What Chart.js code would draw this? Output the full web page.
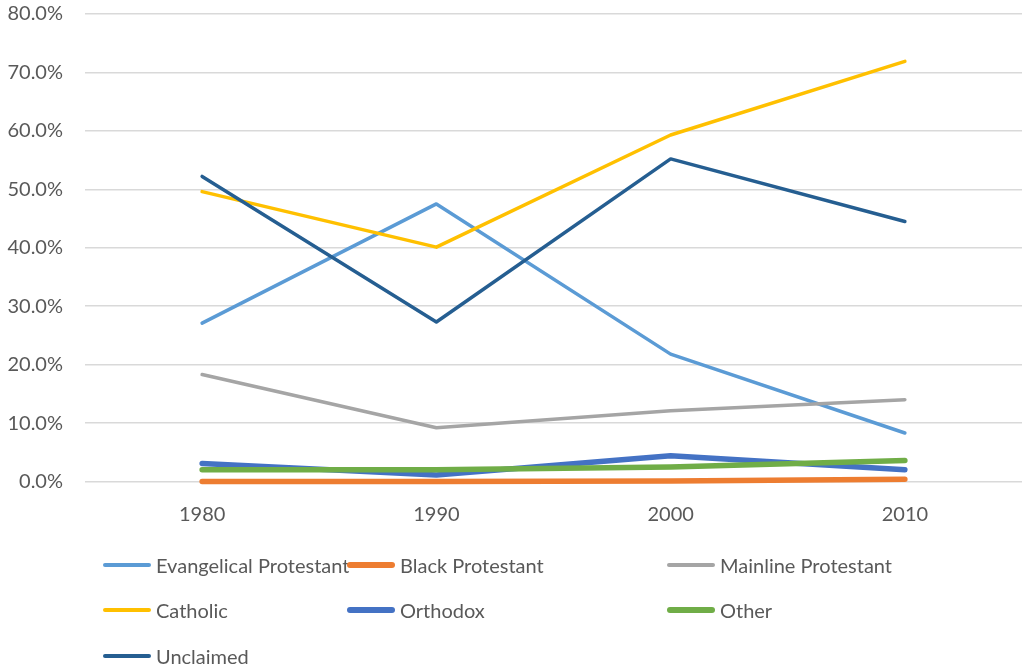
<!DOCTYPE html>
<html>
<head>
<meta charset="utf-8">
<script src="https://cdn.jsdelivr.net/npm/chart.js@4.4.0/dist/chart.umd.min.js"></script>
<style>
  html, body { margin: 0; padding: 0; background: #fff; }
  #wrap { position: relative; width: 1022px; height: 667px; overflow: hidden; }
  #chart { position: absolute; left: 0; top: 0; }
  #legend { position: absolute; left: 0; top: 0; width: 1022px; height: 667px;
            font-family: 'Lato', sans-serif; font-size: 20px; color: #595959; }
  .item { position: absolute; display: flex; align-items: center; height: 30px; margin-top: -15px; white-space: nowrap; }
  .swatch { width: 48px; border-radius: 3px; margin-right: 5px; }
</style>
</head>
<body>
<div id="wrap">
  <canvas id="chart" width="1022" height="530"></canvas>
  <div id="legend"></div>
</div>
<script>
const years = ['1980', '1990', '2000', '2010'];

const evangelical = [27.1, 47.5, 21.8, 8.3];
const blackProt   = [0.0, 0.0, 0.1, 0.4];
const mainline    = [18.3, 9.2, 12.1, 14.0];
const catholic    = [49.6, 40.1, 59.3, 71.9];
const orthodox    = [3.1, 1.1, 4.4, 2.0];
const other       = [2.0, 2.0, 2.5, 3.6];
const unclaimed   = [52.2, 27.3, 55.2, 44.5];

const yTicks = [0, 10, 20, 30, 40, 50, 60, 70, 80];

const series = [
  { label: 'Evangelical Protestant', data: evangelical, color: '#5B9BD5', width: 3.5 },
  { label: 'Black Protestant',       data: blackProt,   color: '#ED7D31', width: 5.5 },
  { label: 'Mainline Protestant',    data: mainline,    color: '#A5A5A5', width: 3.5 },
  { label: 'Catholic',               data: catholic,    color: '#FFC000', width: 3.5 },
  { label: 'Orthodox',               data: orthodox,    color: '#4472C4', width: 5.5 },
  { label: 'Other',                  data: other,       color: '#70AD47', width: 5.5 },
  { label: 'Unclaimed',              data: unclaimed,   color: '#255E91', width: 3.5 }
];

const TEXT = '#595959';
const FONT = "'Lato', sans-serif";

new Chart(document.getElementById('chart').getContext('2d'), {
  type: 'line',
  data: {
    labels: years,
    datasets: series.map((s, i) => ({
      label: s.label,
      data: s.data,
      borderColor: s.color,
      backgroundColor: s.color,
      borderWidth: s.width,
      borderCapStyle: 'round',
      borderJoinStyle: 'round',
      pointRadius: 0,
      tension: 0,
      fill: false,
      clip: false,               // the 0% line must not be cut by the plot edge
      order: series.length - i   // later series paint over earlier ones
    }))
  },
  options: {
    responsive: false,
    animation: false,
    layout: { padding: 0 },
    plugins: { legend: { display: false }, tooltip: { enabled: false } },
    scales: {
      x: {
        offset: true,
        grid: { display: false },
        border: { display: false },
        ticks: { color: TEXT, font: { family: FONT, size: 20 }, padding: 13 },
        afterFit: (s) => { s.height = 48.5; }
      },
      y: {
        min: 0,
        max: 80,
        afterBuildTicks: (s) => { s.ticks = yTicks.map(v => ({ value: v })); },
        grid: { color: '#D9D9D9', lineWidth: 1.6, drawTicks: false },
        border: { display: false },
        ticks: {
          color: TEXT,
          font: { family: FONT, size: 20 },
          padding: 22,
          callback: (v) => v.toFixed(1) + '%'
        },
        // fixed axis width; keep the tick padding from pushing the plot down
        afterFit: (s) => { s.width = 85; s.paddingTop = 14; s.paddingBottom = 0; }
      }
    }
  }
});

// legend laid out in three fixed columns
const legendCols = [103, 347, 667];
const legendRows = [565, 610, 655.5];
const legend = document.getElementById('legend');
series.forEach((s, i) => {
  const item = document.createElement('div');
  item.className = 'item';
  item.style.left = legendCols[i % 3] + 'px';
  item.style.top = legendRows[Math.floor(i / 3)] + 'px';
  const sw = document.createElement('span');
  sw.className = 'swatch';
  sw.style.height = Math.round(s.width) + 'px';
  sw.style.background = s.color;
  const txt = document.createElement('span');
  txt.textContent = s.label;
  item.appendChild(sw);
  item.appendChild(txt);
  legend.appendChild(item);
});
</script>
</body>
</html>
